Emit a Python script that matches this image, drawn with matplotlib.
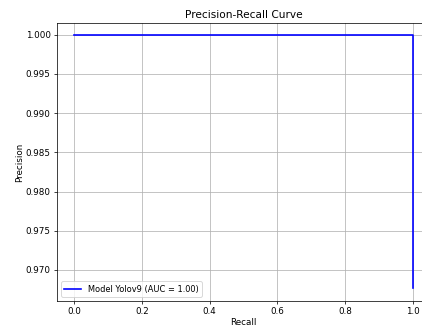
import matplotlib
matplotlib.use('Agg')
import matplotlib.pyplot as plt

# precision / recall points (step curve)
recall = [0.0, 1.0, 1.0]
precision = [1.0, 1.0, 0.9677]
label = "Model Yolov9 (AUC = 1.00)"

dpi = 66
fig = plt.figure(figsize=(422 / dpi, 326 / dpi), dpi=dpi)
# right edge of the axes falls outside the picture, as in the reference
ax = fig.add_axes([57 / 422, 25 / 326, 373 / 422, 278 / 326])

ax.plot(recall, precision, color='blue', lw=1.8, label=label)
ax.set_xlim(-0.05, 1.05)
ax.set_ylim(0.96604, 1.0015)
ax.set_yticks([0.970, 0.975, 0.980, 0.985, 0.990, 0.995, 1.000])
ax.tick_params(labelsize=9.5)
ax.set_xlabel("Recall", fontsize=9.5, labelpad=2)
ax.set_ylabel("Precision", fontsize=9.5, labelpad=2)
ax.set_title("Precision-Recall Curve", fontsize=11.5)
ax.spines['right'].set_visible(False)
ax.grid(True)
ax.legend(loc='lower left', fontsize=9)

plt.savefig("out.png", dpi=dpi)
